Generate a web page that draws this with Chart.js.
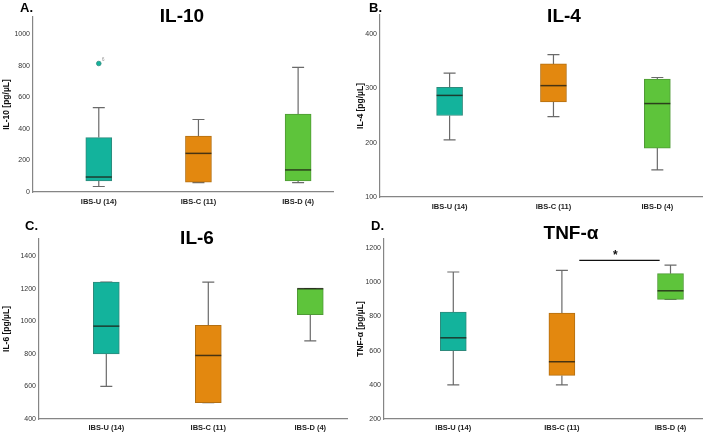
<!DOCTYPE html>
<html>
<head>
<meta charset="utf-8">
<script src="https://cdn.jsdelivr.net/npm/chart.js@4.4.1/dist/chart.umd.min.js"></script>
<style>
  body { margin: 0; background: #fff; }
  #wrap { position: relative; width: 709px; height: 434px; background: #fff; }
  .panel { position: absolute; }
</style>
</head>
<body>
<div id="wrap">
  <div class="panel" style="left:0;top:0"><canvas id="cA" width="354" height="217"></canvas></div>
  <div class="panel" style="left:354px;top:0"><canvas id="cB" width="355" height="217"></canvas></div>
  <div class="panel" style="left:0;top:217px"><canvas id="cC" width="354" height="217"></canvas></div>
  <div class="panel" style="left:354px;top:217px"><canvas id="cD" width="355" height="217"></canvas></div>
</div>
<script>
// groups and colours
var groups = ["IBS-U (14)", "IBS-C (11)", "IBS-D (4)"];
var boxColors = ["#13b39c", "#e3880f", "#5ec43b"];
var boxBorders = ["#2e8a7c", "#b36f12", "#4f9a36"];

// IL-10
var il10Min = [35, 60, 60];
var il10Q1 = [70, 62, 70];
var il10Med = [95, 245, 140];
var il10Q3 = [345, 355, 495];
var il10Max = [535, 460, 790];
var il10Out = [[815], [], []];
var il10Ticks = [0, 200, 400, 600, 800, 1000];

// IL-4
var il4Min = [205, 248, 150];
var il4Q1 = [250, 275, 190];
var il4Med = [287, 305, 272];
var il4Q3 = [302, 345, 317];
var il4Max = [328, 362, 320];
var il4Ticks = [100, 200, 300, 400];

// IL-6
var il6Min = [600, 500, 880];
var il6Q1 = [800, 500, 1040];
var il6Med = [970, 790, 1200];
var il6Q3 = [1240, 975, 1200];
var il6Max = [1240, 1240, 1200];
var il6Ticks = [400, 600, 800, 1000, 1200, 1400];

// TNF-alpha
var tnfMin = [400, 400, 900];
var tnfQ1 = [600, 455, 900];
var tnfMed = [675, 535, 950];
var tnfQ3 = [825, 820, 1050];
var tnfMax = [1060, 1070, 1100];
var tnfTicks = [200, 400, 600, 800, 1000, 1200];
// significance bar IBS-C vs IBS-D
var tnfSig = {from: 2.16, to: 2.9, value: 1128, text: "*"};

var FONT = "'Liberation Sans', Arial, sans-serif";

function makeBoxChart(id, p) {
  var boxPlugin = {
    id: "boxWhisk",
    beforeDatasetsDraw: function (chart) {
      var ctx = chart.ctx, xs = chart.scales.x, ys = chart.scales.y;
      ctx.save();
      ctx.strokeStyle = "#6a6a6a";
      ctx.lineWidth = 1.2;
      for (var i = 0; i < groups.length; i++) {
        var cx = xs.getPixelForValue(i + 1);
        var yMin = ys.getPixelForValue(p.min[i]), yMax = ys.getPixelForValue(p.max[i]);
        var yQ1 = ys.getPixelForValue(p.q1[i]), yQ3 = ys.getPixelForValue(p.q3[i]);
        ctx.beginPath();
        ctx.moveTo(cx, yQ3); ctx.lineTo(cx, yMax);
        ctx.moveTo(cx, yQ1); ctx.lineTo(cx, yMin);
        ctx.moveTo(cx - 6, yMax); ctx.lineTo(cx + 6, yMax);
        ctx.moveTo(cx - 6, yMin); ctx.lineTo(cx + 6, yMin);
        ctx.stroke();
      }
      ctx.restore();
    },
    afterDatasetsDraw: function (chart) {
      var ctx = chart.ctx, xs = chart.scales.x, ys = chart.scales.y;
      ctx.save();
      for (var i = 0; i < groups.length; i++) {
        var cx = xs.getPixelForValue(i + 1);
        var ym = ys.getPixelForValue(p.med[i]);
        ctx.strokeStyle = "rgba(30,30,20,0.8)";
        ctx.lineWidth = 1.5;
        ctx.beginPath();
        ctx.moveTo(cx - 13, ym); ctx.lineTo(cx + 13, ym);
        ctx.stroke();
        var outs = p.out ? p.out[i] : [];
        for (var k = 0; k < outs.length; k++) {
          var oy = ys.getPixelForValue(outs[k]);
          ctx.fillStyle = boxColors[i];
          ctx.strokeStyle = boxBorders[i];
          ctx.lineWidth = 0.8;
          ctx.beginPath();
          ctx.arc(cx, oy, 2.3, 0, Math.PI * 2);
          ctx.fill(); ctx.stroke();
          ctx.fillStyle = "#999";
          ctx.font = "5px " + FONT;
          ctx.textAlign = "left";
          ctx.fillText("6", cx + 3, oy - 3);
        }
      }
      if (p.sig) {
        var x1 = xs.getPixelForValue(p.sig.from), x2 = xs.getPixelForValue(p.sig.to);
        var sy = ys.getPixelForValue(p.sig.value);
        ctx.strokeStyle = "#111";
        ctx.lineWidth = 1.3;
        ctx.beginPath();
        ctx.moveTo(x1, sy); ctx.lineTo(x2, sy);
        ctx.stroke();
        ctx.fillStyle = "#111";
        ctx.font = "bold 12px " + FONT;
        ctx.textAlign = "center";
        ctx.fillText(p.sig.text, (x1 + x2) / 2 - 4, sy - 1);
      }
      // panel letter and title
      ctx.fillStyle = "#000";
      ctx.textAlign = "left";
      ctx.font = "bold 13px " + FONT;
      ctx.fillText(p.letter, p.letterX, p.letterY);
      ctx.textAlign = "center";
      ctx.font = "bold 19px " + FONT;
      ctx.fillText(p.title, p.titleX, p.titleY);
      ctx.restore();
    }
  };

  new Chart(id, {
    type: "bar",
    data: {
      datasets: [{
        data: groups.map(function (g, i) { return {x: i + 1, y: [p.q1[i], p.q3[i]]}; }),
        backgroundColor: boxColors,
        borderColor: boxBorders,
        borderWidth: 1,
        borderSkipped: false,
        barThickness: 26
      }]
    },
    options: {
      responsive: false,
      animation: false,
      events: [],
      layout: {padding: {top: p.top, right: p.right, left: 0, bottom: 0}},
      plugins: {legend: {display: false}, tooltip: {enabled: false}},
      scales: {
        x: {
          type: "linear",
          offset: false,
          min: p.xMin,
          max: p.xMax,
          afterBuildTicks: function (s) { s.ticks = [1, 2, 3].map(function (v) { return {value: v}; }); },
          afterFit: function (s) { s.height = p.bottom; },
          grid: {display: false, drawTicks: false, offset: false},
          border: {display: true, color: "#858585", width: 1.2},
          ticks: {
            callback: function (v) { return groups[v - 1]; },
            font: {family: FONT, size: 7.5, weight: "bold"},
            color: "#222",
            padding: p.xPad,
            maxRotation: 0,
            autoSkip: false
          }
        },
        y: {
          min: p.yMin,
          max: p.yMax,
          afterBuildTicks: function (s) { s.ticks = p.ticks.map(function (v) { return {value: v}; }); },
          afterFit: function (s) { s.width = p.left; },
          grid: {display: false, drawTicks: false},
          border: {display: true, color: "#858585", width: 1.2},
          ticks: {
            callback: function (v) { return String(v); },
            font: {family: FONT, size: 7},
            color: "#333",
            padding: 3
          },
          title: {
            display: true,
            text: p.yTitle,
            font: {family: FONT, size: 8.5, weight: "bold"},
            color: "#111",
            padding: {top: 2, bottom: 0}
          }
        }
      }
    },
    plugins: [boxPlugin]
  });
}

makeBoxChart("cA", {
  min: il10Min, q1: il10Q1, med: il10Med, q3: il10Q3, max: il10Max, out: il10Out,
  ticks: il10Ticks, yMin: 0, yMax: 1110, xMin: 0.34, xMax: 3.35,
  left: 33, right: 21, top: 17, bottom: 25, xPad: 5,
  yTitle: "IL-10 [pg/µL]", letter: "A.", letterX: 20, letterY: 12, title: "IL-10", titleX: 182, titleY: 22
});
makeBoxChart("cB", {
  min: il4Min, q1: il4Q1, med: il4Med, q3: il4Q3, max: il4Max,
  ticks: il4Ticks, yMin: 100, yMax: 435, xMin: 0.33, xMax: 3.43,
  left: 26, right: 7, top: 15, bottom: 20, xPad: 5,
  yTitle: "IL-4 [pg/µL]", letter: "B.", letterX: 15, letterY: 12, title: "IL-4", titleX: 210, titleY: 22
});
makeBoxChart("cC", {
  min: il6Min, q1: il6Q1, med: il6Med, q3: il6Q3, max: il6Max,
  ticks: il6Ticks, yMin: 400, yMax: 1505, xMin: 0.34, xMax: 3.36,
  left: 39, right: 7, top: 22, bottom: 15, xPad: 4,
  yTitle: "IL-6 [pg/µL]", letter: "C.", letterX: 25, letterY: 13, title: "IL-6", titleX: 197, titleY: 27
});
makeBoxChart("cD", {
  min: tnfMin, q1: tnfQ1, med: tnfMed, q3: tnfQ3, max: tnfMax, sig: tnfSig,
  ticks: tnfTicks, yMin: 200, yMax: 1253, xMin: 0.362, xMax: 3.29,
  left: 30, right: 7, top: 22, bottom: 15, xPad: 4,
  yTitle: "TNF-α [pg/µL]", letter: "D.", letterX: 17, letterY: 13, title: "TNF-α", titleX: 217, titleY: 22
});
</script>
</body>
</html>
